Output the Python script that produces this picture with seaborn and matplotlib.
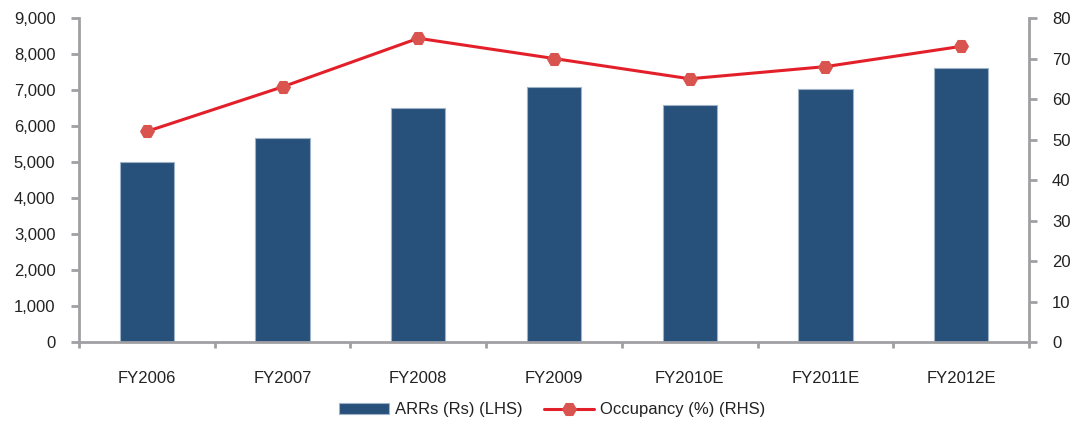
import matplotlib
matplotlib.use("Agg")
import matplotlib.pyplot as plt
import matplotlib.ticker as mticker
import seaborn as sns
import pandas as pd

years = ["FY2006", "FY2007", "FY2008", "FY2009", "FY2010E", "FY2011E", "FY2012E"]
arr_rs = [5000, 5670, 6500, 7080, 6580, 7030, 7600]
occupancy = [52, 63, 75, 70, 65, 68, 73]

df = pd.DataFrame({"year": years, "arr": arr_rs, "occ": occupancy})

sns.set_style("white")
plt.rcParams["font.family"] = ["Liberation Sans", "DejaVu Sans"]

bar_col = "#27507A"
line_col = "#E3202A"
mark_col = "#D9534F"
spine_col = "#A0A0A4"
txt_col = "#222222"

fig = plt.figure(figsize=(10.85, 4.21), dpi=100)
ax = fig.add_axes([0.0728, 0.1876, 0.8756, 0.7696])

sns.barplot(data=df, x="year", y="arr", color=bar_col, width=0.4,
            edgecolor="#9FB3C8", linewidth=0.8, saturation=1, ax=ax,
            label="ARRs (Rs) (LHS)")
ax.set_xlim(-0.5, 6.5)
ax.set_ylim(0, 9000)
ax.yaxis.set_major_locator(mticker.MultipleLocator(1000))
ax.yaxis.set_major_formatter(mticker.StrMethodFormatter("{x:,.0f}"))

ax2 = ax.twinx()
sns.lineplot(x=list(range(len(years))), y=df["occ"], color=line_col, lw=2.2,
             marker="H", markersize=10, markerfacecolor=mark_col,
             markeredgecolor=mark_col, ax=ax2, label="Occupancy (%) (RHS)")
ax2.set_ylim(0, 80)
ax2.yaxis.set_major_locator(mticker.MultipleLocator(10))

for a in (ax, ax2):
    for s in a.spines.values():
        s.set_visible(False)
    a.set_xlabel("")
    a.set_ylabel("")

ax.spines["left"].set_visible(True)
ax.spines["bottom"].set_visible(True)
ax2.spines["right"].set_visible(True)
for s in (ax.spines["left"], ax.spines["bottom"], ax2.spines["right"]):
    s.set_color(spine_col)
    s.set_linewidth(2)

ax.tick_params(axis="y", direction="out", length=6, width=2, color=spine_col,
               labelsize=12, labelcolor=txt_col, pad=11, left=True)
ax2.tick_params(axis="y", direction="out", length=6, width=2, color=spine_col,
                labelsize=12, labelcolor=txt_col, pad=10.5, right=True)
ax.set_xticks(range(len(years)))
ax.set_xticklabels(years)
ax.tick_params(axis="x", which="major", length=0, labelsize=12,
               labelcolor=txt_col, pad=21)
ax.set_xticks([i - 0.5 for i in range(len(years) + 1)], minor=True)
ax.tick_params(axis="x", which="minor", direction="out", length=4, width=2,
               color=spine_col, bottom=True)

h1, l1 = ax.get_legend_handles_labels()
h2, l2 = ax2.get_legend_handles_labels()
for a in (ax, ax2):
    if a.get_legend():
        a.get_legend().remove()
fig.legend(h1 + h2, l1 + l2, loc="lower center", bbox_to_anchor=(0.509, -0.027),
           ncol=2, frameon=False, fontsize=12, handlelength=3,
           handletextpad=0.35, columnspacing=1.3, labelcolor=txt_col)

fig.savefig("out.png", dpi=100)
